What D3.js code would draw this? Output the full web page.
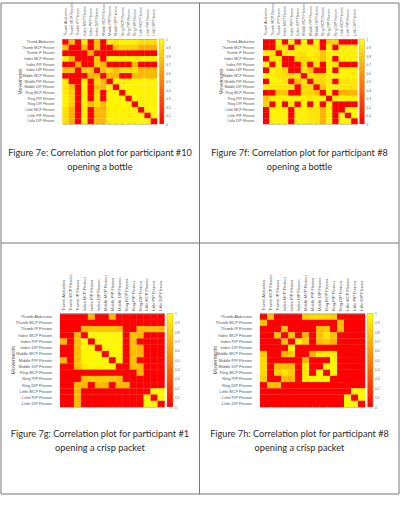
<!DOCTYPE html>
<html>
<head>
<meta charset="utf-8">
<script src="https://cdn.jsdelivr.net/npm/d3@7"></script>
<style>
html,body{margin:0;padding:0;background:#fff;}
svg{display:block;}
text{font-family:"Liberation Sans",Arial,sans-serif;}
.caption{font-family:Lato,"Open Sans",sans-serif;fill:#2b2b2b;text-anchor:middle;}
</style>
</head>
<body>
<svg id="sheet" width="405" height="513"></svg>
<script>
// Finger movements shared by every correlation matrix
const movements = [
  "Thumb Abduction","Thumb MCP Flexion","Thumb IP Flexion",
  "Index MCP Flexion","Index PIP Flexion","Index DIP Flexion",
  "Middle MCP Flexion","Middle PIP Flexion","Middle DIP Flexion",
  "Ring MCP Flexion","Ring PIP Flexion","Ring DIP Flexion",
  "Little MCP Flexion","Little PIP Flexion","Little DIP Flexion"
];
const colorbarTicks = [0,0.1,0.2,0.3,0.4,0.5,0.6,0.7,0.8,0.9,1];

const participant10Bottle = [
  [0,.75,0,.95,0,.75,0,.95,.9,.95,.95,.95,.88,.88,.88],
  [.75,0,0,.7,0,.75,0,0,.75,.82,.82,.82,.68,.68,.68],
  [0,0,0,0,.65,0,0,0,0,0,0,0,0,0,0],
  [.95,.7,0,0,0,.78,0,.95,.95,.95,.95,.95,.95,.95,.95],
  [0,0,.65,0,0,.82,.7,0,0,0,0,.72,0,0,0],
  [.75,.75,0,.78,.82,0,.75,.88,.75,.88,.88,.88,.72,.72,.72],
  [0,0,0,0,.7,.75,0,.72,.72,0,0,.72,.72,.72,.72],
  [.95,0,0,.95,0,.88,.72,0,.95,.95,.95,.95,.95,.95,.95],
  [.9,.75,0,.95,0,.75,.72,.95,0,.95,.95,.95,.95,.95,.95],
  [.95,.82,0,.95,0,.88,0,.95,.95,0,.97,.97,.95,.95,.95],
  [.95,.82,0,.95,0,.88,0,.95,.97,.97,0,.97,.95,.95,.95],
  [.95,.82,0,.95,.72,.88,.72,.95,.95,.97,.97,0,.95,.95,.95],
  [.88,.68,0,.95,0,.72,.72,.95,.95,.95,.95,.95,0,.97,.97],
  [.88,.68,0,.95,0,.72,.72,.95,.95,.95,.95,.95,.97,0,.97],
  [.88,.68,0,.95,0,.72,.72,.95,.95,.95,.95,.95,.97,.97,0]
];

const participant8Bottle = [
  [0,0,.95,0,.95,0,.95,0,.95,0,.78,.82,0,0,0],
  [0,0,.9,.9,0,.95,.95,.95,.9,0,.95,0,.95,.95,.95],
  [.95,.9,0,.9,.95,.9,.9,.95,.9,.78,.95,.95,.95,.95,.95],
  [0,.9,.9,0,0,.85,.85,.9,.9,.78,.95,0,.95,.95,.95],
  [.95,0,.95,0,0,0,.85,0,.9,0,.95,.9,0,0,0],
  [0,.95,.9,.85,0,0,.9,.75,0,0,.95,0,.95,.95,.95],
  [.95,.95,.9,.85,.85,.9,0,.9,.85,.85,.95,.95,.95,.95,.95],
  [0,.95,.95,.9,0,.75,.9,0,.85,.85,.9,0,.9,.9,.9],
  [.95,.9,.9,.9,.9,0,.85,.85,0,.75,.95,.95,.9,.9,.9],
  [0,0,.78,.78,0,0,.85,.85,.75,0,.95,0,.7,.7,.7],
  [.78,.95,.95,.95,.95,.95,.95,.9,.95,.95,0,.95,.95,.95,.95],
  [.82,0,.95,0,.9,0,.95,0,.95,0,.95,0,0,0,0],
  [0,.95,.95,.95,0,.95,.95,.9,.9,.7,.95,0,0,.97,.97],
  [0,.95,.95,.95,0,.95,.95,.9,.9,.7,.95,0,.97,0,.97],
  [0,.95,.95,.95,0,.95,.95,.9,.9,.7,.95,0,.97,.97,0]
];

const participant1Crisp = [
  [0,0,0,0,.72,0,0,.72,0,0,0,0,0,0,0],
  [0,0,0,0,0,0,0,0,0,0,0,0,0,0,0],
  [0,0,0,.75,.78,.78,.78,.78,.75,0,0,.75,.75,.75,.75],
  [0,0,.72,0,.97,.97,.97,.97,.97,0,.75,.72,0,0,0],
  [.72,0,.75,.97,0,.97,.97,.97,.97,0,.75,0,0,0,0],
  [0,0,.75,.97,.97,0,.97,.97,.97,0,.75,.72,0,0,0],
  [0,0,.75,.97,.97,.97,0,.97,.97,0,.75,.72,0,0,0],
  [.72,0,.75,.97,.97,.97,.97,0,.97,0,.75,0,0,0,0],
  [0,0,.75,.9,.97,.97,.97,.97,0,0,.75,.72,0,0,0],
  [0,0,0,0,0,0,0,0,0,0,0,.72,0,0,0],
  [0,0,0,.75,.8,.8,.8,.8,.75,0,0,0,0,0,0],
  [0,0,.72,.72,0,.72,.72,0,.72,.72,0,0,0,0,0],
  [0,0,.72,0,0,0,0,0,0,0,0,0,0,.97,.97],
  [0,0,.72,0,0,0,0,0,0,0,0,0,.97,0,.97],
  [0,0,.72,0,0,0,0,0,0,0,0,0,.97,.97,0]
];

const participant8Crisp = [
  [0,.75,0,0,0,0,.8,.85,.85,.85,.8,0,0,0,0],
  [.75,0,0,0,0,0,0,0,0,0,0,.75,0,0,0],
  [0,0,0,.75,0,0,0,0,.75,.8,0,.75,0,0,0],
  [0,0,.75,0,.75,0,.7,0,.75,.9,.75,0,0,0,0],
  [0,0,0,.75,0,.97,.8,0,.75,.8,.7,0,0,0,0],
  [0,0,0,0,.97,0,0,0,0,0,0,0,0,0,0],
  [.8,0,0,.7,.8,0,0,.7,.92,.92,.92,0,0,0,0],
  [.85,0,0,0,0,0,.7,0,0,0,.97,0,0,0,0],
  [.85,0,.75,.75,.75,0,.92,0,0,.97,.97,0,0,0,0],
  [.85,0,.8,.9,.8,0,.92,0,.97,0,.97,0,0,0,0],
  [.8,0,0,.75,.7,0,.92,.97,.97,.97,0,0,0,0,0],
  [0,.75,.75,0,0,0,0,0,0,0,0,0,0,0,0],
  [0,0,0,0,0,0,0,0,0,0,0,0,0,.97,.97],
  [0,0,0,0,0,0,0,0,0,0,0,0,.97,0,.97],
  [0,0,0,0,0,0,0,0,0,0,0,0,.97,.97,0]
];

const captionsTop = [
  "Figure 7e: Correlation plot for participant #10",
  "Figure 7f: Correlation plot for participant #8",
  "Figure 7g: Correlation plot for participant #1",
  "Figure 7h: Correlation plot for participant #8"
];
const captionsBottom = ["opening a bottle","opening a bottle","opening a crisp packet","opening a crisp packet"];

// Autumn colormap: red at zero through orange to yellow at one
const heat = d3.scaleSequential(d3.interpolateRgb("#ff0000","#ffff00")).domain([0,1]);

const sheet = d3.select("#sheet");
const inkColor = "#555";

// Table rules of the page layout
const ruleX = [1,199.5,399];
const ruleY = [3,243,494];
sheet.selectAll("line.v").data(ruleX).join("line").attr("class","v")
  .attr("x1",d=>d).attr("x2",d=>d).attr("y1",ruleY[0]).attr("y2",ruleY[2])
  .attr("stroke","#777").attr("stroke-width",1);
sheet.selectAll("line.h").data(ruleY).join("line").attr("class","h")
  .attr("x1",ruleX[0]).attr("x2",ruleX[2]).attr("y1",d=>d).attr("y2",d=>d)
  .attr("stroke","#777").attr("stroke-width",1);

const defs = sheet.append("defs");
const gradient = defs.append("linearGradient").attr("id","heatRamp")
  .attr("x1",0).attr("x2",0).attr("y1",1).attr("y2",0);
gradient.selectAll("stop").data(colorbarTicks).join("stop")
  .attr("offset",d=>d).attr("stop-color",d=>heat(d));

const panels = [
  {matrix:participant10Bottle,x0:62.3,x1:157,y0:39,y1:124,barX:159.5,barW:4.5,rowEnd:54.5,colEnd:36,titleX:22,font:3.6,titleFont:5,capX:100,capY:[156,170]},
  {matrix:participant8Bottle,x0:263,x1:357.5,y0:39,y1:124,barX:359.5,barW:5,rowEnd:254.5,colEnd:36,titleX:223,font:3.6,titleFont:5,capX:299.5,capY:[156,170]},
  {matrix:participant1Crisp,x0:60,x1:164.5,y0:313.5,y1:407,barX:167,barW:6,rowEnd:52,colEnd:311,titleX:15,font:4,titleFont:5.5,capX:100,capY:[437,451]},
  {matrix:participant8Crisp,x0:260,x1:365,y0:313.5,y1:407,barX:367.5,barW:5.5,rowEnd:252,colEnd:311,titleX:217,font:4,titleFont:5.5,capX:299.5,capY:[437,451]}
];

panels.forEach((p,k)=>{
  const g = sheet.append("g");
  const xScale = d3.scaleBand().domain(movements).range([p.x0,p.x1]);
  const yScale = d3.scaleBand().domain(movements).range([p.y0,p.y1]);

  // Matrix cells
  const cells = p.matrix.flatMap((row,r)=>row.map((v,c)=>({r,c,v})));
  g.selectAll("rect.cell").data(cells).join("rect").attr("class","cell")
    .attr("x",d=>xScale(movements[d.c]))
    .attr("y",d=>yScale(movements[d.r]))
    .attr("width",xScale.bandwidth()+0.2)
    .attr("height",yScale.bandwidth()+0.2)
    .attr("fill",d=>heat(d.v));

  // Thin frame with inward tick stubs along the top and bottom
  const tickFrame = d3.axisBottom(xScale).tickFormat("").tickSizeInner(-1).tickSizeOuter(0);
  g.append("g").attr("transform",`translate(0,${p.y1})`).call(tickFrame)
    .call(a=>a.selectAll("path,line").attr("stroke","#999").attr("stroke-width",0.5));
  const tickFrameTop = d3.axisTop(xScale).tickFormat("").tickSizeInner(-1).tickSizeOuter(0);
  g.append("g").attr("transform",`translate(0,${p.y0})`).call(tickFrameTop)
    .call(a=>a.selectAll("path,line").attr("stroke","#999").attr("stroke-width",0.5));

  // Row labels, left of the matrix
  g.selectAll("text.row").data(movements).join("text").attr("class","row")
    .attr("x",p.rowEnd)
    .attr("y",d=>yScale(d)+yScale.bandwidth()/2)
    .attr("dy","0.35em")
    .attr("text-anchor","end")
    .attr("font-size",p.font)
    .attr("fill",inkColor)
    .text(d=>d);

  // Column labels, rotated above the matrix
  g.selectAll("text.col").data(movements).join("text").attr("class","col")
    .attr("transform",d=>`translate(${xScale(d)+xScale.bandwidth()/2},${p.colEnd}) rotate(-90)`)
    .attr("dy","0.35em")
    .attr("font-size",p.font)
    .attr("fill",inkColor)
    .text(d=>d);

  // Axis title
  g.append("text")
    .attr("transform",`translate(${p.titleX},${(p.y0+p.y1)/2}) rotate(-90)`)
    .attr("text-anchor","middle")
    .attr("font-size",p.titleFont)
    .attr("fill",inkColor)
    .text("Movements");

  // Colour bar with its own axis
  const barScale = d3.scaleLinear().domain([0,1]).range([p.y1,p.y0]);
  g.append("rect")
    .attr("x",p.barX).attr("y",p.y0)
    .attr("width",p.barW).attr("height",p.y1-p.y0)
    .attr("fill","url(#heatRamp)")
    .attr("stroke","#999").attr("stroke-width",0.4);
  const barAxis = g.append("g")
    .attr("transform",`translate(${p.barX+p.barW},0)`)
    .call(d3.axisRight(barScale).tickValues(colorbarTicks).tickSize(0).tickPadding(2).tickFormat(d3.format("~g")));
  barAxis.select(".domain").remove();
  barAxis.selectAll("text").attr("font-size",3.2).attr("fill",inkColor);

  // Captions under each plot
  sheet.append("text").attr("class","caption").attr("x",p.capX).attr("y",p.capY[0]).attr("font-size",9.2).text(captionsTop[k]);
  sheet.append("text").attr("class","caption").attr("x",p.capX).attr("y",p.capY[1]).attr("font-size",9.2).text(captionsBottom[k]);
});
</script>
</body>
</html>
